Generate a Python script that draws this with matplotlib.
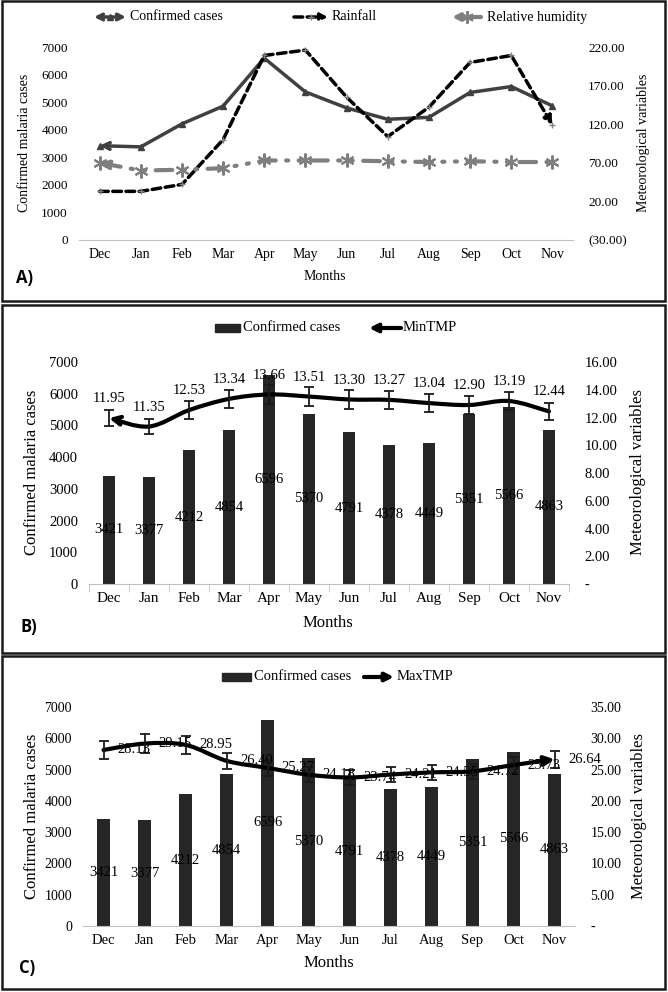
import numpy as np
import matplotlib
matplotlib.use('Agg')
from matplotlib import pyplot as plt
from matplotlib.path import Path
from matplotlib.patches import FancyArrowPatch, Rectangle
from matplotlib.lines import Line2D
from matplotlib.ticker import FuncFormatter

# monthly data (Dec .. Nov)
months = ['Dec', 'Jan', 'Feb', 'Mar', 'Apr', 'May', 'Jun', 'Jul', 'Aug', 'Sep', 'Oct', 'Nov']
cases = [3421, 3377, 4212, 4854, 6596, 5370, 4791, 4378, 4449, 5351, 5566, 4863]
rainfall = [33, 33, 42, 100, 209, 216, 155, 104, 142, 200, 209, 119]
humidity = [70, 60, 61, 63, 73, 73, 73, 72, 71, 72, 71, 71]
min_tmp = [11.95, 11.35, 12.53, 13.34, 13.66, 13.51, 13.30, 13.27, 13.04, 12.90, 13.19, 12.44]
max_tmp = [28.13, 29.15, 28.95, 26.40, 25.27, 24.18, 23.74, 24.21, 24.55, 24.72, 25.73, 26.64]

W, H = 668, 992
plt.rcParams['font.family'] = ['Liberation Serif', 'DejaVu Serif']

fig = plt.figure(figsize=(W / 100, H / 100), dpi=100)
x = np.arange(len(months))


def fx(px):
    return px / W


def fy(py):
    return 1 - py / H


def axes_px(x0, y0, x1, y1):
    return fig.add_axes([fx(x0), fy(y1), (x1 - x0) / W, (y1 - y0) / H])


def line_path(xs, ys, smooth=False):
    """Straight or Catmull-Rom (Excel like) smoothed path through the points."""
    pts = np.column_stack([xs, ys]).astype(float)
    n = len(pts)
    if not smooth:
        return Path(pts, [Path.MOVETO] + [Path.LINETO] * (n - 1))
    verts = [pts[0]]
    codes = [Path.MOVETO]
    for i in range(n - 1):
        p0, p1 = pts[max(i - 1, 0)], pts[i]
        p2, p3 = pts[i + 1], pts[min(i + 2, n - 1)]
        verts += [p1 + (p2 - p0) / 6, p2 - (p3 - p1) / 6, p2]
        codes += [Path.CURVE4] * 3
    return Path(verts, codes)


def add_curve(ax, xs, ys, style, smooth=False, ms=14, **kw):
    p = FancyArrowPatch(path=line_path(xs, ys, smooth), arrowstyle=style,
                        mutation_scale=ms, fill=False, **kw)
    ax.add_patch(p)


def acc_fmt(v, pos):
    if abs(v) < 1e-9:
        return '-'
    if v < 0:
        return '(%.2f)' % -v
    return '%.2f' % v


def style_axes(ax, ax2, fs, minor=False):
    ax.set_xlim(-0.5, 11.5)
    ax.set_xticks(x, months)
    ax.set_yticks(np.arange(0, 7001, 1000))
    ax.set_ylim(0, 7000)
    for s in ['top', 'left', 'right']:
        ax.spines[s].set_visible(False)
    ax.spines['bottom'].set_color('#bfbfbf')
    for s in ['top', 'left', 'right', 'bottom']:
        ax2.spines[s].set_visible(False)
    ax.tick_params(axis='x', length=0, pad=6, labelsize=fs + 0.5)
    ax.tick_params(axis='y', length=0, pad=8, labelsize=fs)
    ax2.tick_params(axis='y', length=0, pad=11, labelsize=fs)
    ax2.yaxis.set_major_formatter(FuncFormatter(acc_fmt))
    if minor:
        ax.set_xticks(np.arange(-0.5, 12, 1), minor=True)
        ax.tick_params(axis='x', which='minor', length=6, color='#bfbfbf')


# ---------- panel A ----------
axA = axes_px(79, 47, 573, 240)
axA2 = axA.twinx()
style_axes(axA, axA2, 9.5)
axA2.set_ylim(-30, 220)
axA2.set_yticks(np.arange(-30, 221, 50))

add_curve(axA, x, cases, '<-', color='#404040', lw=2.5, ms=12)
axA.plot(x, cases, ls='none', marker='^', ms=5, color='#404040')
add_curve(axA2, x, rainfall, '-|>', color='black', lw=2.5, ms=12,
          linestyle=(0, (2.5, 1.3)))
axA2.plot(x, rainfall, ls='none', marker='+', ms=5, color='#808080')
add_curve(axA2, x, humidity, '<-', color='#7f7f7f', lw=3, ms=12,
          linestyle=(0, (4, 2.5, 0.5, 2.5, 0.5, 2.5)))
axA2.plot(x, humidity, ls='none', marker=(6, 2, 0), ms=10, mew=1.5, color='#7f7f7f')

# ---------- panel B ----------
axB = axes_px(89, 362, 569, 584)
axB2 = axB.twinx()
style_axes(axB, axB2, 10.5, minor=True)
axB2.set_ylim(0, 16)
axB2.set_yticks(np.arange(0, 17, 2))
axB.bar(x, cases, width=0.28, color='#262626')
for i, v in enumerate(cases):
    axB.text(i, v / 2, str(v), ha='center', va='center', fontsize=10.5)
axB2.errorbar(x, min_tmp, yerr=0.05 * np.array(min_tmp), fmt='none',
              ecolor='#1a1a1a', elinewidth=1.3, capsize=3.5, capthick=1.3)
add_curve(axB2, x, min_tmp, '<-', smooth=True, color='black', lw=3, ms=14)
for i, v in enumerate(min_tmp):
    axB2.annotate('%.2f' % v, (i, v), xytext=(0, 14), textcoords='offset points',
                  ha='center', va='center', fontsize=10.5)

# ---------- panel C ----------
axC = axes_px(83, 707, 575, 926)
axC2 = axC.twinx()
style_axes(axC, axC2, 10)
axC2.set_ylim(0, 35)
axC2.set_yticks(np.arange(0, 36, 5))
axC.bar(x, cases, width=0.31, color='#262626')
for i, v in enumerate(cases):
    axC.text(i, v / 2, str(v), ha='center', va='center', fontsize=10.5)
axC2.errorbar(x, max_tmp, yerr=0.05 * np.array(max_tmp), fmt='none',
              ecolor='#1a1a1a', elinewidth=1.3, capsize=3.5, capthick=1.3)
add_curve(axC2, x, max_tmp, '-|>', smooth=True, color='black', lw=3, ms=14)
for i, v in enumerate(max_tmp):
    axC2.annotate('%.2f' % v, (i, v), xytext=(10, 0), textcoords='offset points',
                  ha='left', va='center', fontsize=10.5)

# ---------- axis titles, panel letters ----------
for (lx, rx, cy, fs) in [(25, 643, 143, 10), (32, 638, 472, 12), (32, 639, 816, 12)]:
    fig.text(fx(lx), fy(cy), 'Confirmed malaria cases', rotation=90,
             ha='center', va='center', fontsize=fs)
    fig.text(fx(rx), fy(cy), 'Meteorological variables', rotation=90,
             ha='center', va='center', fontsize=fs)
for (mx, my, fs) in [(325, 276, 10), (328, 623, 12), (329, 963, 12)]:
    fig.text(fx(mx), fy(my), 'Months', ha='center', va='center', fontsize=fs)
for (lab, lx, ly) in [('A)', 16, 278), ('B)', 21, 627), ('C)', 19, 968)]:
    fig.text(fx(lx), fy(ly), lab, ha='left', va='center', fontsize=12,
             fontweight='bold', family=['Open Sans', 'DejaVu Sans'])

# ---------- legends (drawn by hand) ----------


def leg_arrow(x0, x1, y, style, **kw):
    fig.add_artist(FancyArrowPatch((fx(x0), fy(y)), (fx(x1), fy(y)),
                                   transform=fig.transFigure, arrowstyle=style,
                                   shrinkA=0, shrinkB=0, **kw))


def leg_mark(xm, y, **kw):
    fig.add_artist(Line2D([fx(xm)], [fy(y)], transform=fig.transFigure, ls='none', **kw))


def leg_text(xt, y, s, fs):
    fig.text(fx(xt), fy(y), s, ha='left', va='center', fontsize=fs)


def leg_bar(x0, x1, y):
    fig.add_artist(Rectangle((fx(x0), fy(y + 4)), (x1 - x0) / W, 8 / H,
                             transform=fig.transFigure, color='#262626'))


leg_arrow(94, 126, 17, '<->', color='#404040', lw=2.5, mutation_scale=10)
leg_mark(110, 17, marker='^', ms=5, color='#404040')
leg_text(130, 17, 'Confirmed cases', 10)
leg_arrow(294, 328, 17, '-|>', color='black', lw=2.5, mutation_scale=10,
          linestyle=(0, (2.5, 1.3)))
leg_mark(311, 17, marker='+', ms=5, color='#808080')
leg_text(332, 17, 'Rainfall', 10)
leg_arrow(452, 481, 17, '<-', color='#7f7f7f', lw=3, mutation_scale=10)
leg_mark(467, 17, marker=(6, 2, 0), ms=9, mew=1.5, color='#7f7f7f')
leg_text(487, 17, 'Relative humidity', 10)

leg_bar(215, 240, 328)
leg_text(243, 328, 'Confirmed cases', 10.5)
leg_arrow(369, 401, 328, '<-', color='black', lw=3, mutation_scale=12)
leg_text(403, 328, 'MinTMP', 10.5)

leg_bar(222, 251, 677)
leg_text(254, 677, 'Confirmed cases', 10.5)
leg_arrow(364, 394, 677, '-|>', color='black', lw=3, mutation_scale=12)
leg_text(397, 677, 'MaxTMP', 10.5)

# ---------- panel frames ----------
for (y0, y1) in [(1, 301), (305, 653), (656, 989)]:
    fig.add_artist(Rectangle((fx(2), fy(y1)), 663 / W, (y1 - y0) / H,
                             transform=fig.transFigure, fill=False,
                             edgecolor='#1a1a1a', lw=1.8))

plt.savefig('out.png', dpi=100)
